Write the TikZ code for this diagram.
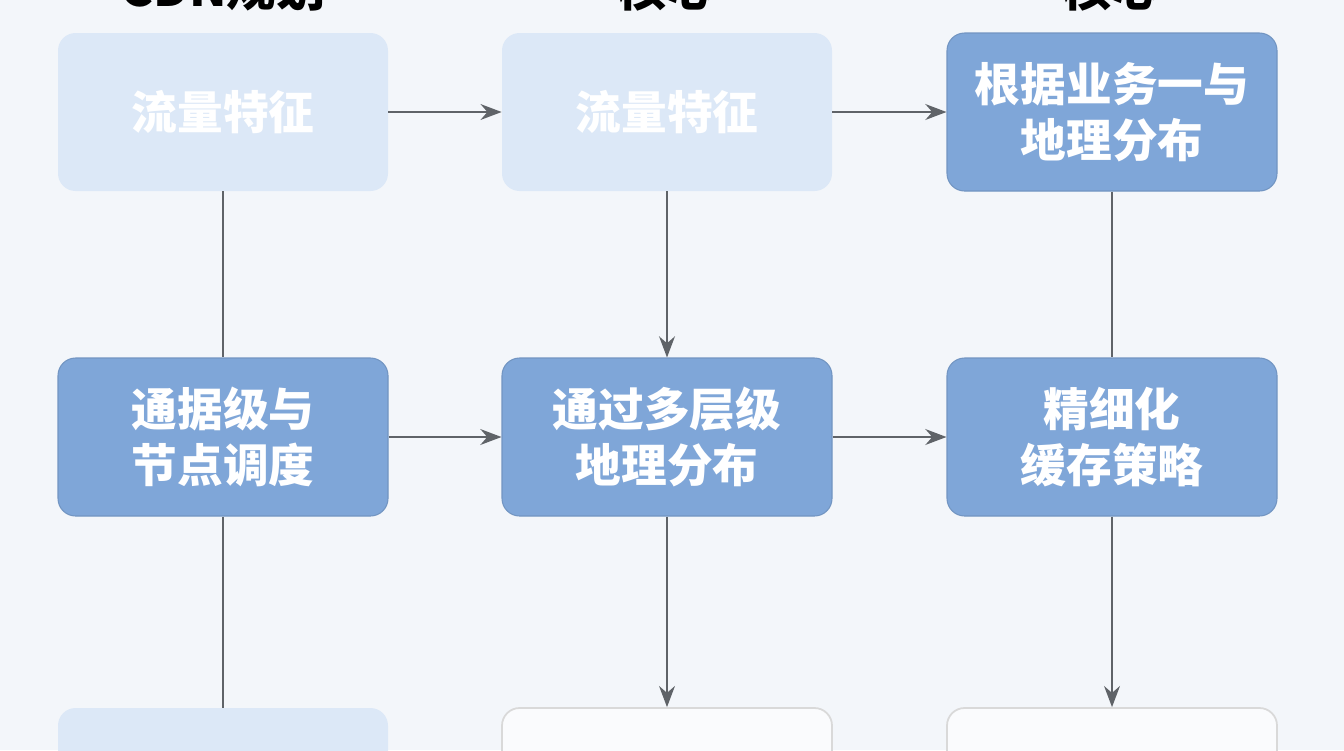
\documentclass[tikz,border=0pt]{standalone}
\usepackage{fontspec}
\setmainfont{Noto Sans CJK SC}
\usetikzlibrary{positioning, arrows.meta}
\definecolor{bgblue}{RGB}{243, 246, 250}
\definecolor{paleblue}{RGB}{220, 232, 247}
\definecolor{midblue}{RGB}{127, 166, 216}
\definecolor{linegray}{RGB}{95, 99, 104}

\begin{document}
\begin{tikzpicture}[
        box/.style={rectangle, minimum width=6.6cm, minimum height=3.16cm, align=center, rounded corners=10pt, font=\fontsize{26}{32}\selectfont\bfseries, text=white},
        pale/.style={box, fill=paleblue},
        dark/.style={box, fill=midblue, draw=midblue!90!black, line width=0.6pt},
        blank/.style={box, fill=white!60!bgblue, draw=black!15, line width=1pt},
        head/.style={font=\fontsize{28}{32}\selectfont\bfseries, text=black},
        arr/.style={-{Stealth[length=12pt, width=9pt]}, draw=linegray, line width=1.3pt},
        link/.style={draw=linegray, line width=1.3pt}
    ]
        \clip (0,0) rectangle (26.88,-15);
        \fill[bgblue] (0,0) rectangle (26.88,-15);

        % Headers (cut at the top edge)
        \node[head, anchor=base] (h1) at (4.46,-0.12) {CDN规划};
        \node[head, anchor=base] (h2) at (13.34,-0.12) {核心};
        \node[head, anchor=base] (h3) at (22.24,-0.12) {核心};

        % Row 1
        \node[pale] (flow1) at (4.46,-2.24) {流量特征};
        \node[pale] (flow2) at (13.34,-2.24) {流量特征};
        \node[dark] (geo1) at (22.24,-2.24) {根据业务一与\\地理分布};

        % Row 2
        \node[dark] (sched) at (4.46,-8.74) {通据级与\\节点调度};
        \node[dark] (geo2) at (13.34,-8.74) {通过多层级\\地理分布};
        \node[dark] (cache) at (22.24,-8.74) {精细化\\缓存策略};

        % Row 3
        \node[pale] (low1) at (4.46,-15.74) {};
        \node[blank] (low2) at (13.34,-15.74) {};
        \node[blank] (low3) at (22.24,-15.74) {};

        % Connectors
        \draw[arr] (flow1) -- (flow2);
        \draw[arr] (flow2) -- (geo1);
        \draw[arr] (sched) -- (geo2);
        \draw[arr] (geo2) -- (cache);
        \draw[link] (flow1) -- (sched);
        \draw[link] (sched) -- (low1);
        \draw[arr] (flow2) -- (geo2);
        \draw[arr] (geo2) -- (low2);
        \draw[link] (geo1) -- (cache);
        \draw[arr] (cache) -- (low3);
    \end{tikzpicture}
\end{document}
